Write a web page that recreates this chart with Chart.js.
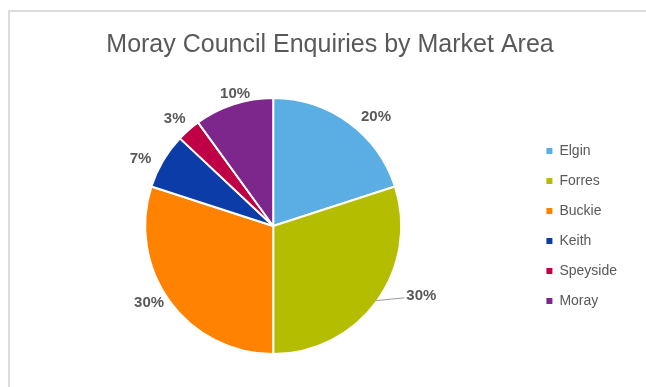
<!DOCTYPE html>
<html>
<head>
<meta charset="utf-8">
<title>Moray Council Enquiries by Market Area</title>
<script src="https://cdn.jsdelivr.net/npm/chart.js@4.4.1/dist/chart.umd.min.js"></script>
<style>
  html, body { margin: 0; padding: 0; background: #fff; }
  #frame { position: absolute; left: 8px; top: 10px; width: 660px; height: 400px;
           border-left: 2px solid #dcdcdc; border-top: 2px solid #dcdcdc; }
  #wrap { position: absolute; left: 0; top: 0; width: 646px; height: 387px; }
</style>
</head>
<body>
<div id="frame"></div>
<div id="wrap"><canvas id="chart"></canvas></div>
<script>
let areas = ["Elgin", "Forres", "Buckie", "Keith", "Speyside", "Moray"];
let shares = [20, 30, 30, 7, 3, 10];
let colors = ["#5aaee4", "#b5bd00", "#ff8200", "#0b3ca8", "#c00046", "#7d268c"];

// small nudges so labels sit where the original put them
let nudgeX = [17, 30, -6, -7, -2, 7];
let nudgeY = [9, -16, -9, 7, 2, 7];
let leader = [false, true, false, false, false, false];

let font = "'Liberation Sans', Arial, sans-serif";

// title is centred on the whole frame, not on the plot + legend
let centreTitle = {
  id: "centreTitle",
  afterLayout(chart) {
    chart.titleBlock.left = 8;
    chart.titleBlock.right = 652;
  }
};

let pctLabels = {
  id: "pctLabels",
  afterDatasetsDraw(chart) {
    let ctx = chart.ctx;
    let meta = chart.getDatasetMeta(0);
    ctx.save();
    ctx.font = "bold 15px " + font;
    ctx.textAlign = "center";
    ctx.textBaseline = "middle";
    meta.data.forEach((arc, i) => {
      let p = arc.getProps(["x", "y", "startAngle", "endAngle", "outerRadius"], true);
      let mid = (p.startAngle + p.endAngle) / 2;
      let r = p.outerRadius + 18;
      let lx = p.x + Math.cos(mid) * r + nudgeX[i];
      let ly = p.y + Math.sin(mid) * r + nudgeY[i];
      let txt = shares[i] + "%";
      if (leader[i]) {
        let w = ctx.measureText(txt).width;
        ctx.strokeStyle = "#9a9a9a";
        ctx.lineWidth = 1;
        ctx.beginPath();
        ctx.moveTo(p.x + Math.cos(mid) * (p.outerRadius - 1), p.y + Math.sin(mid) * (p.outerRadius - 1));
        ctx.lineTo(lx - w / 2 - 2, ly + 2);
        ctx.stroke();
      }
      ctx.fillStyle = "#595959";
      ctx.fillText(txt, lx, ly);
    });
    ctx.restore();
  }
};

new Chart(document.getElementById("chart"), {
  type: "pie",
  data: {
    labels: areas,
    datasets: [{ data: shares, backgroundColor: colors, borderColor: "#fff", borderWidth: 2 }]
  },
  options: {
    responsive: true,
    maintainAspectRatio: false,
    animation: false,
    layout: { padding: { left: 16, right: 19, top: 0, bottom: 32 } },
    plugins: {
      title: {
        display: true,
        text: "Moray Council Enquiries by Market Area",
        color: "#595959",
        font: { family: font, size: 25, weight: "normal" },
        padding: { top: 30, bottom: 37 }
      },
      legend: {
        position: "right",
        fullSize: false,
        labels: {
          boxWidth: 6,
          boxHeight: 6,
          padding: 16,
          color: "#595959",
          font: { family: font, size: 14 },
          generateLabels(chart) {
            let items = Chart.overrides.pie.plugins.legend.labels.generateLabels(chart);
            items.forEach(it => { it.lineWidth = 0; it.strokeStyle = it.fillStyle; });
            return items;
          }
        }
      },
      tooltip: { enabled: false }
    }
  },
  plugins: [centreTitle, pctLabels]
});
</script>
</body>
</html>
